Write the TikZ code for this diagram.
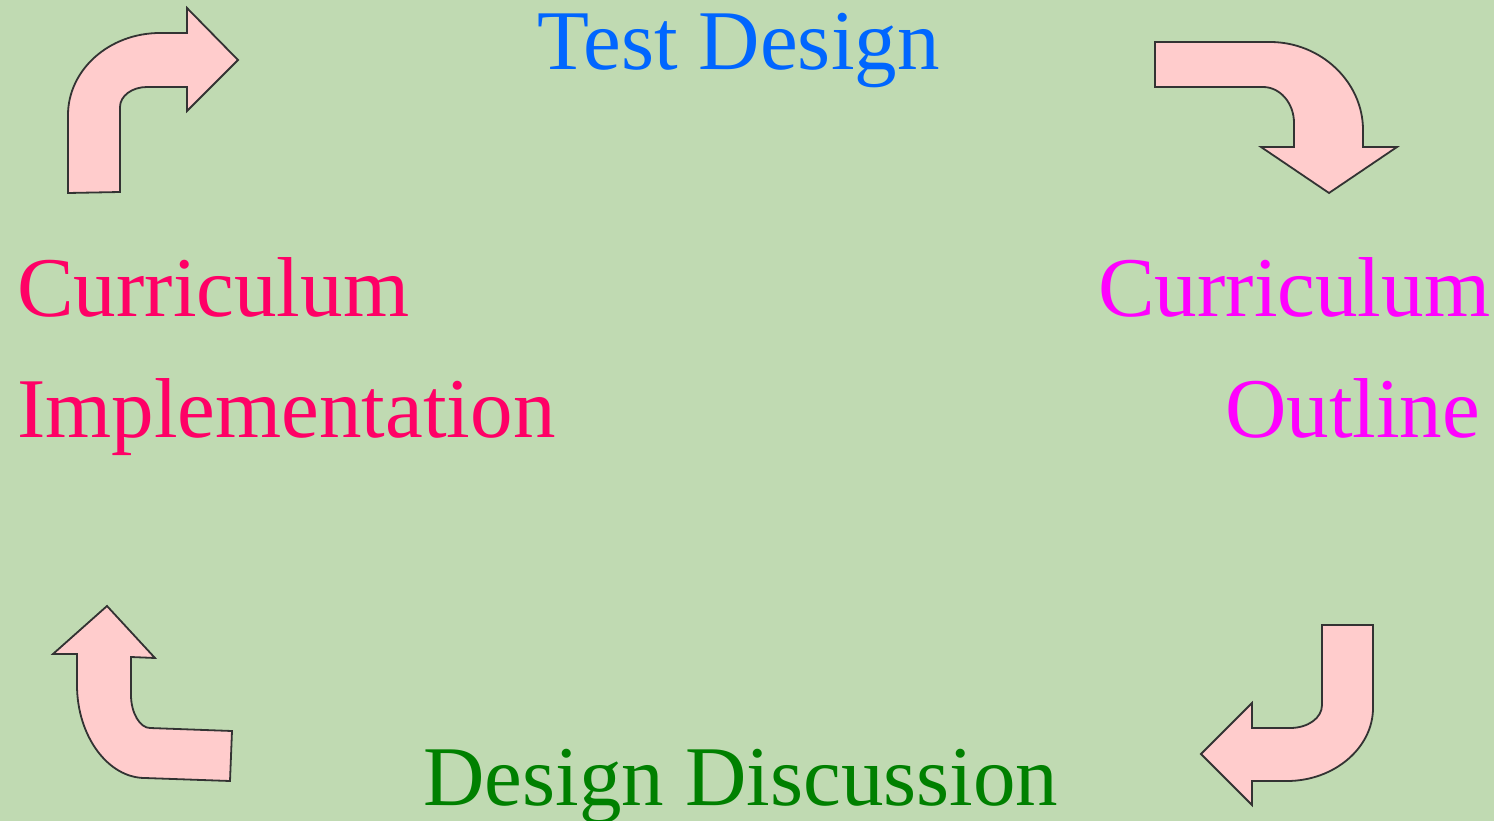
\documentclass[tikz,border=0pt]{standalone}
\usepackage{fontspec}
\setmainfont{Liberation Serif}

\definecolor{paper}{RGB}{192,218,178}
\definecolor{arrowpink}{RGB}{255,204,204}
\definecolor{arrowline}{RGB}{51,51,51}
\definecolor{testblue}{RGB}{0,102,255}
\definecolor{implred}{RGB}{255,0,102}
\definecolor{outlinemag}{RGB}{255,0,255}
\definecolor{discgreen}{RGB}{0,128,0}

\begin{document}
\begin{tikzpicture}[x=1pt,y=-1pt]
    \tikzstyle{turn arrow}=[fill=arrowpink,draw=arrowline,line width=1.8pt,line join=miter]
    \tikzstyle{stage}=[inner sep=0pt,anchor=base west,font=\fontsize{85}{121}\selectfont]

    % background
    \fill[paper] (0,0) rectangle (1494,821);
    \useasboundingbox (0,0) rectangle (1494,821);

    % the four stages
    \node[stage,text=testblue] (test) at (537,70) {Test Design};
    \node[stage,text=outlinemag] (outline1) at (1098,316) {Curriculum};
    \node[stage,text=outlinemag] (outline2) at (1225,437) {Outline};
    \node[stage,text=discgreen] (disc) at (423,805) {Design Discussion};
    \node[stage,text=implred] (impl1) at (17,316) {Curriculum};
    \node[stage,text=implred] (impl2) at (17,437) {Implementation};

    % top left arrow, turning right
    \draw[turn arrow] (68,193) -- (68,115) .. controls (68,70) and (109,33) .. (160,33)
        -- (187,33) -- (187,8) -- (238,60) -- (187,111) -- (187,87) -- (147,87)
        .. controls (132,87) and (120,96) .. (120,107) -- (120,192) -- cycle;

    % top right arrow, turning down
    \draw[turn arrow] (1155,42) -- (1270,42) .. controls (1321,42) and (1363,82) .. (1363,130)
        -- (1363,147) -- (1397,147) -- (1329,193) -- (1261,147) -- (1294,147) -- (1294,123)
        .. controls (1294,103) and (1280,87) .. (1263,87) -- (1155,87) -- cycle;

    % bottom right arrow, turning left
    \draw[turn arrow] (1322,625) -- (1373,625) -- (1373,708) .. controls (1373,748) and (1334,781) .. (1287,781)
        -- (1252,781) -- (1252,805) -- (1201,754) -- (1252,703) -- (1252,728) -- (1290,728)
        .. controls (1308,728) and (1322,718) .. (1322,705) -- cycle;

    % bottom left arrow, turning up
    \draw[turn arrow] (107,606) -- (155,658) -- (131,657) -- (131,695)
        .. controls (131,713) and (140,728) .. (150,728) -- (232,731) -- (230,781) -- (145,778)
        .. controls (108,778) and (77,736) .. (77,685) -- (77,654) -- (53,654) -- cycle;
\end{tikzpicture}
\end{document}
